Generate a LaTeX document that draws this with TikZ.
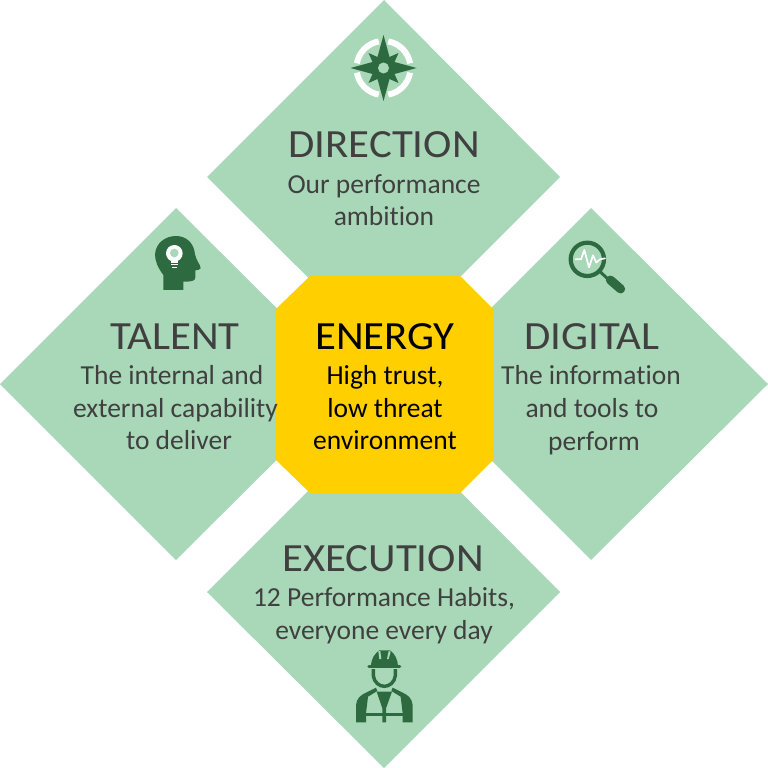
\documentclass[tikz,border=0pt]{standalone}
\usepackage{fontspec}
\setmainfont[Ligatures=NoCommon]{Carlito}
\newfontfamily\headfont[Ligatures=NoCommon,FakeStretch=1.07]{Carlito}
\definecolor{leaf}{HTML}{A9D8B8}
\definecolor{deep}{HTML}{2D6A3F}
\definecolor{ink}{HTML}{404040}
\definecolor{sun}{HTML}{FFCF00}
\tikzset{
 x=1pt,y=-1pt,
 petal/.style={fill=leaf,draw=none},
 head/.style={anchor=base,text=ink,font=\headfont\fontsize{40}{40}\selectfont,inner sep=0pt},
 body/.style={anchor=base,text=ink,font=\fontsize{27.5}{28}\selectfont,inner sep=0pt},
 zoomed/.style={x=0.3333pt,y=-0.3333pt},
}
\begin{document}
\begin{tikzpicture}
\useasboundingbox (0,0) rectangle (768,768);
\fill[petal] (384,0) -- (560,177) -- (384,353) -- (207,177) -- cycle;
\fill[petal] (176,208) -- (353,384) -- (176,560) -- (0,384) -- cycle;
\fill[petal] (591,208) -- (768,384) -- (591,560) -- (415,384) -- cycle;
\fill[petal] (384,415) -- (560,592) -- (384,768) -- (207,592) -- cycle;
\fill[sun] (310,276) -- (460,276) -- (493,309) -- (493,460) -- (460,493) -- (310,493) -- (276,460) -- (276,309) -- cycle;
% compass
\begin{scope}[shift={(383.5,68)}]
 \foreach \a in {0,90,180,270}{
  \draw[white,line width=6pt] (\a+10:27) arc[start angle=\a+10,end angle=\a+80,radius=27];
 }
 \fill[deep] (33,0) -- (11,-6) -- (15,-15) -- (6,-11) -- (0,-33) -- (-6,-11) -- (-15,-15) -- (-11,-6) -- (-33,0) -- (-11,6) -- (-15,15) -- (-6,11) -- (0,33) -- (6,11) -- (15,15) -- (11,6) -- cycle;
 \fill[leaf] (0,0) circle (5.5);
\end{scope}
% head
\begin{scope}[shift={(140,225)},zoomed]
 \fill[deep] (70,195) -- (70,150) .. controls (55,130) and (45,110) .. (45,88) .. controls (47,55) and (75,33) .. (108,33) .. controls (140,33) and (162,55) .. (165,88) .. controls (168,105) and (182,120) .. (182,130) .. controls (180,135) and (172,135) .. (166,136) -- (166,158) .. controls (165,168) and (155,170) .. (130,170) -- (130,195) -- cycle;
 \fill[white] (103,85) circle (25);
 \fill[leaf] (103,84) circle (13);
 \fill[white] (92,108) rectangle (114,114);
 \fill[white] (93,118) rectangle (113,121);
 \fill[white] (96,126) rectangle (110,129);
\end{scope}
% magnifier
\begin{scope}[shift={(555,230)},zoomed]
 \draw[deep,line width=4.2pt] (97,88) circle (50);
 \draw[deep,line width=3pt] (135,125) -- (160,148);
 \draw[deep,line width=9pt,line cap=round] (166,150) -- (197,177);
 \draw[white,line width=1.7pt,line join=round,line cap=round] (62,88) -- (78,88) -- (88,60) -- (102,112) -- (114,76) -- (124,98) -- (135,88) -- (150,85);
\end{scope}
% worker
\begin{scope}[shift={(340,645)},zoomed]
 \fill[deep] (93,65) .. controls (93,40) and (105,25) .. (118,16) -- (150,16) .. controls (165,26) and (174,45) .. (174,65) -- cycle;
 \fill[leaf] (115,18) -- (121,18) -- (124,42) -- (118,42) -- cycle;
 \fill[leaf] (146,18) -- (152,20) -- (146,42) -- (141,42) -- cycle;
 \draw[deep,line width=3.4pt,line cap=round] (87,65) -- (179,65);
 \draw[deep,line width=3.4pt] (100,72) -- (100,92) .. controls (102,112) and (118,124) .. (133,124) .. controls (148,124) and (164,112) .. (166,92) -- (166,72);
 \fill[deep] (48,232) -- (48,180) .. controls (50,160) and (62,150) .. (78,143) -- (108,128) -- (112,138) -- (84,155) -- (78,205) -- (78,232) -- cycle;
 \fill[deep] (218,232) -- (218,180) .. controls (216,160) and (204,150) .. (188,143) -- (158,128) -- (154,138) -- (182,155) -- (188,205) -- (188,232) -- cycle;
 \fill[deep] (110,140) -- (156,140) -- (138,190) -- (138,232) -- (127,232) -- (127,190) -- cycle;
 \fill[deep] (78,204) rectangle (188,212);
\end{scope}
% labels
\node[head] (direction) at (384,157) {DIRECTION};
\node[body] (dir1) at (384,193.5) {Our performance};
\node[body] (dir2) at (384,225.5) {ambition};
\node[head] (talent) at (175,349) {TALENT};
\node[body] (tal1) at (172,384.5) {The internal and};
\node[body] (tal2) at (175.5,417.5) {external capability};
\node[body] (tal3) at (179,449.5) {to deliver};
\node[head] (digital) at (592,349) {DIGITAL};
\node[body] (dig1) at (591,384.5) {The information};
\node[body] (dig2) at (592,417.5) {and tools to};
\node[body] (dig3) at (594,450.5) {perform};
\node[head,text=black] (energy) at (385,349) {ENERGY};
\node[body,text=black] (en1) at (385,384.5) {High trust,};
\node[body,text=black] (en2) at (385,417.5) {low threat};
\node[body,text=black] (en3) at (385,449.5) {environment};
\node[head] (execution) at (383,571) {EXECUTION};
\node[body] (ex1) at (384,606.5) {12 Performance Habits,};
\node[body] (ex2) at (384,639.5) {everyone every day};
\end{tikzpicture}
\end{document}
